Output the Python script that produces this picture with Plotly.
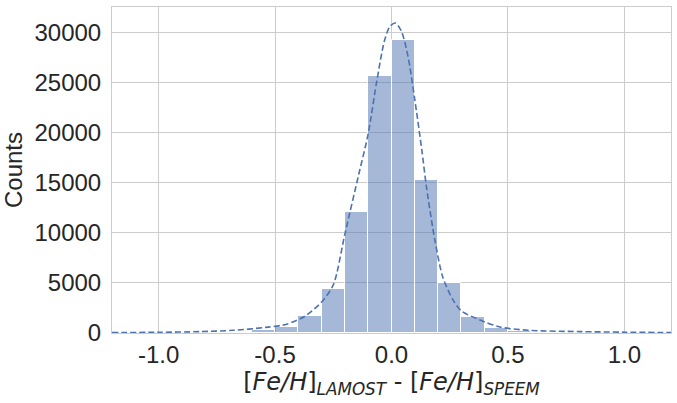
import plotly.graph_objects as go

# histogram bins (left edges, width 0.1) and counts
bin_left = [-0.8, -0.7, -0.6, -0.5, -0.4, -0.3, -0.2, -0.1, 0.0, 0.1, 0.2, 0.3, 0.4, 0.5, 0.6]
counts = [60, 130, 270, 580, 1700, 4400, 12050, 25700, 29250, 15250, 5000, 1620, 520, 160, 60]
bin_width = 0.1

# fitted profile
curve_x = [-1.2, -1.0, -0.82, -0.68, -0.54, -0.45, -0.37, -0.30, -0.25, -0.20, -0.14, -0.10,
           -0.065, -0.03, -0.007, 0.017, 0.043, 0.071, 0.10, 0.13, 0.15, 0.186, 0.22, 0.264,
           0.30, 0.38, 0.465, 0.59, 0.81, 1.0, 1.2]
curve_y = [40, 70, 140, 270, 560, 880, 1700, 3100, 4800, 9900, 15900, 19900,
           24900, 29200, 30600, 30950, 30100, 27600, 23300, 18300, 14600, 9300, 5600, 3300,
           2200, 1300, 600, 270, 140, 80, 40]

x_ticks = [-1.0, -0.5, 0.0, 0.5, 1.0]
y_ticks = [0, 5000, 10000, 15000, 20000, 25000, 30000]

BLUE = '#4C72B0'
TEXT = '#262626'
GRID = '#cccccc'

fig = go.Figure()
fig.add_trace(go.Bar(
    x=bin_left,
    y=counts,
    width=bin_width,
    offset=0,
    marker=dict(color='rgba(76,114,176,0.5)', line=dict(color='white', width=1)),
    showlegend=False
))
fig.add_trace(go.Scatter(
    x=curve_x,
    y=curve_y,
    mode='lines',
    line=dict(color=BLUE, dash='6px,3px', width=1.6, shape='spline', smoothing=0.8),
    showlegend=False
))

fig.update_layout(
    width=677,
    height=403,
    margin=dict(l=112, r=6, t=7, b=70),
    paper_bgcolor='#FFFFFF',
    plot_bgcolor='#FFFFFF',
    font=dict(family='Liberation Sans, Arial, sans-serif', size=24, color=TEXT),
    bargap=0
)
fig.update_xaxes(
    range=[-1.2, 1.2],
    tickvals=x_ticks,
    ticktext=['-1.0', '-0.5', '0.0', '0.5', '1.0'],
    showgrid=True, gridcolor=GRID, gridwidth=1,
    showline=True, linecolor=GRID, linewidth=1, mirror=True,
    zeroline=False, ticks='', automargin=False,
    title=dict(text='[<i>Fe/H</i>]<sub><i>LAMOST</i></sub> - [<i>Fe/H</i>]<sub><i>SPEEM</i></sub>',
               font=dict(family='DejaVu Sans', size=24), standoff=2)
)
fig.update_yaxes(
    range=[0, 32550],
    tickvals=y_ticks,
    tickformat='d',
    showgrid=True, gridcolor=GRID, gridwidth=1,
    showline=True, linecolor=GRID, linewidth=1, mirror=True,
    zeroline=False, ticks='', automargin=False, ticklabelstandoff=5,
    title=dict(text='Counts', font=dict(size=24), standoff=6)
)

# the page body has a default 8px margin; drop it so the figure sits at the corner
fig.write_html("out.html", config={'displayModeBar': False},
               post_script="document.body.style.margin='0';")
